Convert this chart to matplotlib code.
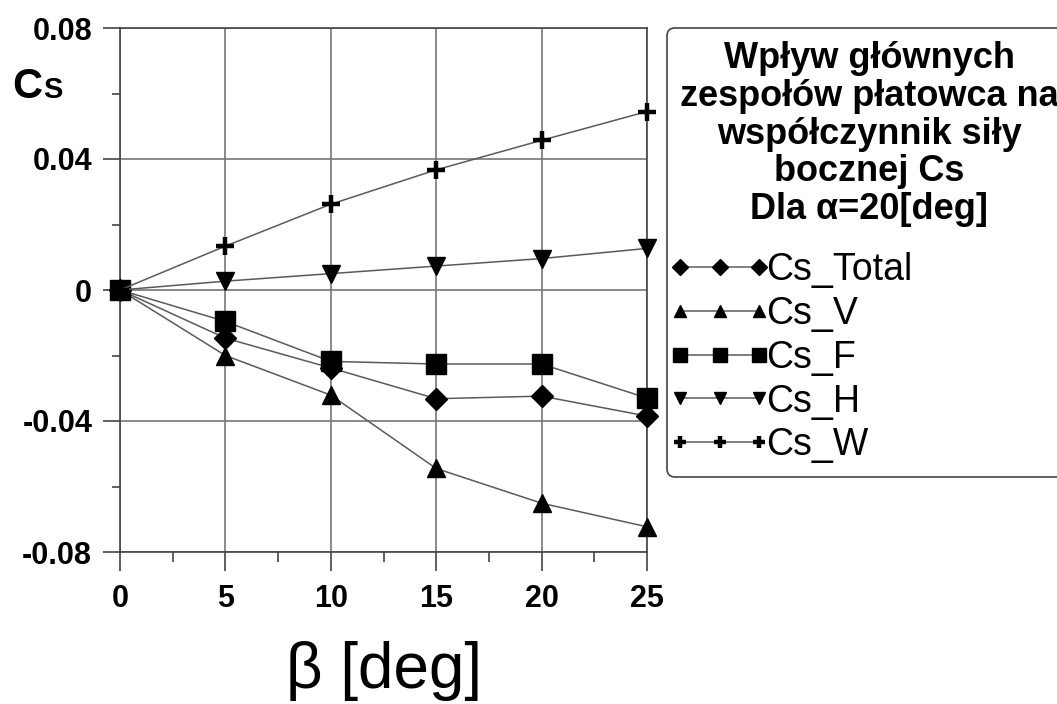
import numpy as np
import matplotlib.pyplot as plt
from matplotlib.ticker import MultipleLocator, FixedLocator, FixedFormatter
from matplotlib.legend_handler import HandlerLine2D

plt.rcParams['font.family'] = ['Liberation Sans', 'DejaVu Sans']

# Dane
beta = [0, 5, 10, 15, 20, 25]
cs_total = [0, -0.0147, -0.0238, -0.0332, -0.0324, -0.0385]
cs_v = [0, -0.0200, -0.0321, -0.0545, -0.0651, -0.0723]
cs_f = [0, -0.0096, -0.0218, -0.0226, -0.0226, -0.0330]
cs_h = [0, 0.0027, 0.0050, 0.0073, 0.0096, 0.0127]
cs_w = [0, 0.0134, 0.0262, 0.0367, 0.0457, 0.0545]

yticks = [-0.08, -0.04, 0, 0.04, 0.08]
ytick_labels = ['-0.08', '-0.04', '0', '0.04', '0.08']

fig = plt.figure(figsize=(10.57, 7.04), dpi=100)
ax = fig.add_axes([120/1057, 1-552/704, (647-120)/1057, (552-28)/704])

lc = '#5a5a5a'
kw = dict(color=lc, lw=1.1, mfc='k', mec='k', zorder=3, clip_on=False)
ax.plot(beta, cs_total, marker='D', ms=11, label='Cs_Total', **kw)
ax.plot(beta, cs_v, marker='^', ms=13, label='Cs_V', **kw)
ax.plot(beta, cs_f, marker='s', ms=14, label='Cs_F', **kw)
ax.plot(beta, cs_h, marker='v', ms=13, label='Cs_H', **kw)
ax.plot(beta, cs_w, marker='+', ms=13, mew=3.2, label='Cs_W', **kw)

ax.set_xlim(0, 25)
ax.set_ylim(-0.08, 0.08)
ax.xaxis.set_major_locator(MultipleLocator(5))
ax.xaxis.set_minor_locator(MultipleLocator(2.5))
ax.yaxis.set_major_locator(FixedLocator(yticks))
ax.yaxis.set_major_formatter(FixedFormatter(ytick_labels))
ax.yaxis.set_minor_locator(MultipleLocator(0.02))
ax.grid(True, which='major', color='#777777', lw=1.2)
for s in ax.spines.values():
    s.set_color('#444444')
    s.set_linewidth(1.2)
ax.tick_params(axis='x', which='major', direction='out', length=14, width=1.2, color='#444444', pad=9, labelsize=22)
ax.tick_params(axis='x', which='minor', direction='out', length=7, width=1.2, color='#444444')
ax.tick_params(axis='y', which='major', direction='out', length=12, width=1.2, color='#444444', pad=8, labelsize=22)
ax.tick_params(axis='y', which='minor', direction='out', length=6, width=1.2, color='#444444')
for lab in ax.get_xticklabels() + ax.get_yticklabels():
    lab.set_fontweight('bold')

# Opis osi
fig.text(12/1057, 1-98/704, 'C', fontsize=30, fontweight='bold', va='baseline', ha='left')
fig.text(43/1057, 1-98/704, 'S', fontsize=21, fontweight='bold', va='baseline', ha='left')
fig.text(384/1057, 1-688/704, 'β [deg]', fontsize=46, va='baseline', ha='center')

tytul = 'Wpływ głównych\nzespołów płatowca na\nwspółczynnik siły\nbocznej Cs\nDla α=20[deg]'
leg = ax.legend(loc='upper left', bbox_to_anchor=(667/1057, 1-28/704), bbox_transform=fig.transFigure,
                title=tytul, fontsize=27, numpoints=3, markerscale=0.7, handlelength=2.1,
                handletextpad=0.2, labelspacing=0.21, borderpad=0.35, borderaxespad=0,
                fancybox=True, edgecolor='#444444', framealpha=1, alignment='left',
                handler_map={plt.Line2D: HandlerLine2D(marker_pad=0)})
leg.get_title().set_fontsize(26)
leg.get_title().set_fontweight('bold')
leg.get_title().set_multialignment('center')
leg.get_title().set_linespacing(1.1)
leg._legend_box.sep = 18
leg.get_frame().set_linewidth(1.2)

fig.savefig('out.png', dpi=100)
